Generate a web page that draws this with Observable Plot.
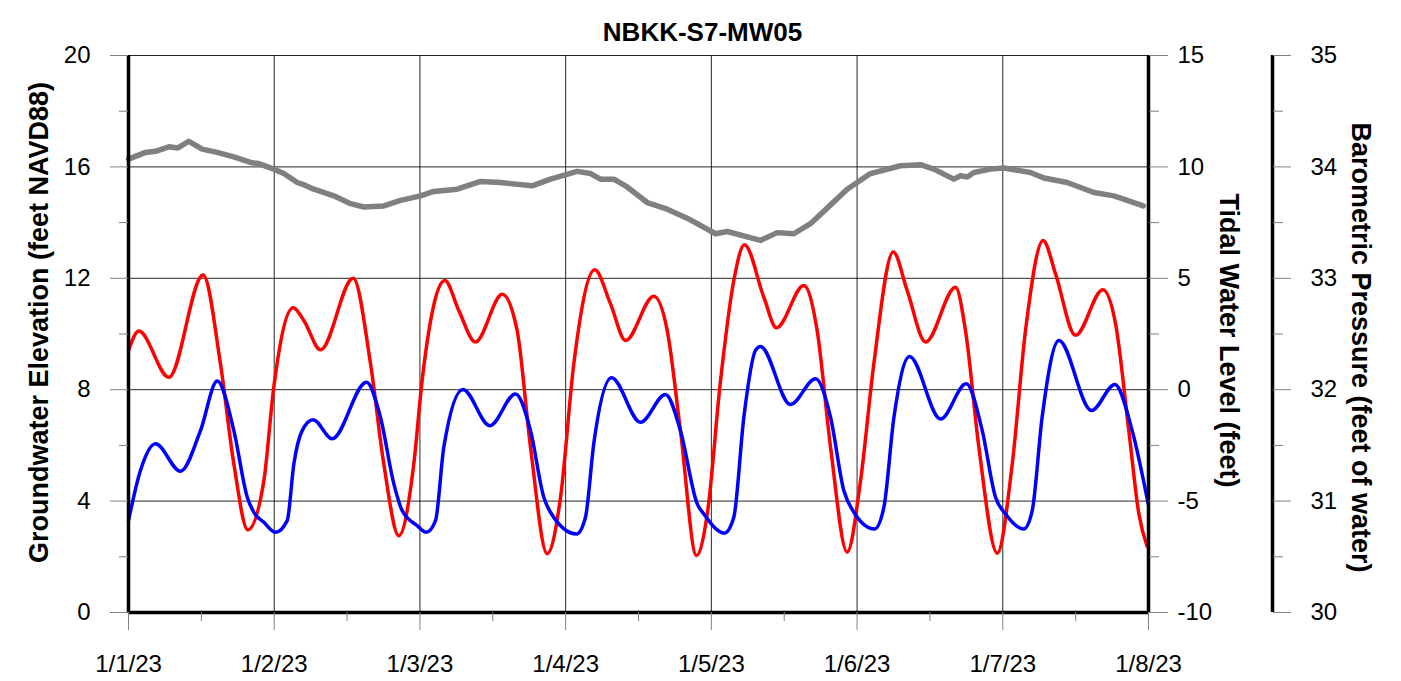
<!DOCTYPE html>
<html><head><meta charset="utf-8">
<script src="https://cdn.jsdelivr.net/npm/d3@7"></script>
<script src="https://cdn.jsdelivr.net/npm/@observablehq/plot@0.6"></script>
<style>html,body{margin:0;padding:0;background:#fff;} #chart{width:1401px;height:681px;}</style>
</head><body><div id="chart"></div>
<script>
const chartTitle = "NBKK-S7-MW05";
const leftTitle = "Groundwater Elevation (feet NAVD88)";
const rightTitle = "Tidal Water Level (feet)";
const farTitle = "Barometric Pressure (feet of water)";

const xTickLabels = ["1/1/23","1/2/23","1/3/23","1/4/23","1/5/23","1/6/23","1/7/23","1/8/23"];
const gwTicks = [0,4,8,12,16,20];
const tidalTicks = [-10,-5,0,5,10,15];
const baroTicks = [30,31,32,33,34,35];

// Groundwater (blue), time in days since 1/1/23
const gwT = [0,0.082,0.185,0.357,0.494,0.609,0.723,0.815,0.86,0.929,1.009,1.089,1.135,1.192,1.267,1.398,1.633,1.729,1.821,1.878,1.981,2.043,2.107,2.164,2.295,2.480,2.656,2.759,2.850,2.896,3.075,3.136,3.193,3.315,3.514,3.685,3.788,3.903,3.948,4.090,4.154,4.223,4.303,4.337,4.543,4.715,4.818,4.909,4.978,5.120,5.184,5.253,5.360,5.573,5.749,5.859,5.950,6.019,6.144,6.202,6.270,6.385,6.609,6.769,6.888,6.998];
const gwVal = [3.30,5.10,6.06,5.07,6.53,8.31,6.53,4.14,3.60,3.24,2.88,3.30,5.34,6.53,6.92,6.24,8.27,7.01,4.62,3.66,3.12,2.88,3.30,5.94,8.01,6.71,7.85,6.53,4.14,3.60,2.82,3.42,6.06,8.43,6.83,7.83,6.53,3.90,3.54,2.85,3.42,7.01,9.41,9.55,7.47,8.39,7.01,4.38,3.60,3.00,3.78,7.01,9.19,6.95,8.21,6.53,4.14,3.54,3.00,3.66,7.01,9.77,7.25,8.19,6.53,3.90];

// Tidal water level (red)
const tidalT = [0,0.071,0.277,0.512,0.631,0.723,0.819,0.929,0.997,1.130,1.203,1.318,1.542,1.661,1.752,1.855,1.958,2.015,2.171,2.267,2.381,2.565,2.667,2.759,2.873,2.965,3.056,3.200,3.308,3.411,3.605,3.697,3.788,3.898,3.972,4.063,4.154,4.227,4.360,4.447,4.635,4.726,4.818,4.932,5.024,5.115,5.248,5.344,5.470,5.676,5.744,5.836,5.962,6.065,6.156,6.277,6.362,6.499,6.687,6.774,6.865,6.934,6.991];
const tidalVal = [1.76,2.63,0.56,5.15,1.16,-3.33,-6.29,-4.08,0.11,3.68,3.11,1.79,5.00,1.16,-3.33,-6.55,-3.33,0.41,4.90,3.55,2.14,4.28,2.66,-2.58,-7.36,-4.83,1.16,5.38,3.85,2.21,4.19,2.66,-1.84,-7.44,-5.58,0.41,4.90,6.51,4.15,2.78,4.68,2.66,-2.58,-7.29,-4.08,1.16,6.18,4.45,2.14,4.60,2.66,-2.58,-7.34,-3.33,2.66,6.70,5.20,2.44,4.49,2.96,-1.84,-5.58,-7.04];

// Barometric pressure (gray)
const baroT = [0,0.117,0.185,0.277,0.339,0.414,0.506,0.609,0.723,0.837,0.894,0.997,1.066,1.158,1.203,1.272,1.409,1.524,1.615,1.752,1.867,2.004,2.095,2.256,2.416,2.553,2.622,2.770,2.896,3.079,3.171,3.239,3.331,3.422,3.560,3.697,3.834,4.029,4.109,4.337,4.452,4.566,4.680,4.795,4.932,5.092,5.298,5.435,5.527,5.664,5.710,5.756,5.802,5.916,6.007,6.190,6.282,6.442,6.625,6.762,6.854,6.964];
const baroVal = [34.07,34.13,34.14,34.18,34.17,34.23,34.16,34.13,34.09,34.04,34.03,33.98,33.94,33.86,33.84,33.80,33.74,33.67,33.64,33.65,33.70,33.74,33.78,33.80,33.87,33.86,33.85,33.83,33.89,33.96,33.94,33.89,33.89,33.82,33.68,33.62,33.54,33.40,33.42,33.34,33.41,33.40,33.49,33.63,33.80,33.94,34.01,34.02,33.98,33.89,33.92,33.91,33.95,33.98,33.99,33.95,33.90,33.86,33.77,33.74,33.70,33.65];

const start = new Date(Date.UTC(2023,0,1));
const end = new Date(Date.UTC(2023,0,8));
const toDate = t => new Date(start.getTime() + t*864e5);
const dayTicks = d3.range(0,8).map(toDate);
const halfTicks = d3.range(0,7).map(i => toDate(i + 0.5));

const tidalToGw = v => (v + 10) * 20 / 25;
const baroToGw = v => (v - 30) * 4;
const minorY = [2,6,10,14,18];

const gw = gwT.map((t,i) => ({date: toDate(t), y: gwVal[i]}));
const tidal = tidalT.map((t,i) => ({date: toDate(t), y: tidalToGw(tidalVal[i])}));
const baro = baroT.map((t,i) => ({date: toDate(t), y: baroToGw(baroVal[i])}));

const tidalPos = tidalTicks.map(tidalToGw);
const baroPos = baroTicks.map(baroToGw);
const lookup = (pos, labels) => v => { const i = pos.findIndex(p => Math.abs(p - v) < 1e-6); return i < 0 ? "" : String(labels[i]); };

const font = "'Liberation Sans', Arial, Helvetica, sans-serif";
const tickColor = "#808080";

const chart = Plot.plot({
  width: 1401, height: 681,
  marginTop: 55, marginBottom: 69, marginLeft: 128, marginRight: 253,
  style: {fontFamily: font, fontSize: "24px", color: "black", background: "white", overflow: "visible"},
  x: {type: "utc", domain: [start, end]},
  y: {domain: [0, 20]},
  marks: [
    Plot.gridY(gwTicks.slice(1), {stroke: "#000", strokeOpacity: 0.85, strokeWidth: 1}),
    Plot.gridX(dayTicks.slice(1, -1), {stroke: "#000", strokeOpacity: 0.85, strokeWidth: 1}),
    Plot.line(baro, {x: "date", y: "y", stroke: "#808080", strokeWidth: 5.5, curve: "linear", strokeLinejoin: "round"}),
    Plot.line(tidal, {x: "date", y: "y", stroke: "#ff0000", strokeWidth: 3.5, curve: "monotone-x"}),
    Plot.line(gw, {x: "date", y: "y", stroke: "#0000ff", strokeWidth: 3.5, curve: "monotone-x"}),
    Plot.ruleY([0], {stroke: "#000", strokeWidth: 3.5}),
    Plot.ruleX([start, end], {stroke: "#000", strokeWidth: 3.5}),
    Plot.ruleX([end], {dx: 124, stroke: "#000", strokeWidth: 3.5}),
    // x axis
    Plot.axisX(dayTicks, {tickSize: 18, tickPadding: 24, stroke: tickColor, fill: "black", fontSize: 24, label: null,
      tickFormat: d => xTickLabels[Math.round((d - start) / 864e5)]}),
    Plot.axisX(halfTicks, {tickSize: 9, stroke: tickColor, tickFormat: () => "", label: null}),
    // left axis
    Plot.axisY(gwTicks, {anchor: "left", tickSize: 18, tickPadding: 20, stroke: tickColor, fill: "black", fontSize: 24, label: null, tickFormat: d => String(d)}),
    Plot.axisY(minorY, {anchor: "left", tickSize: 9, stroke: tickColor, tickFormat: () => "", label: null}),
    // tidal axis
    Plot.axisY(tidalPos, {anchor: "right", tickSize: 19, tickPadding: 10, stroke: tickColor, fill: "black", fontSize: 24, label: null, tickFormat: lookup(tidalPos, tidalTicks)}),
    Plot.axisY(minorY, {anchor: "right", tickSize: 10, stroke: tickColor, tickFormat: () => "", label: null}),
    // barometric axis
    Plot.axisY(baroPos, {anchor: "right", dx: 124, tickSize: 18, tickPadding: 20, stroke: tickColor, fill: "black", fontSize: 24, label: null, tickFormat: lookup(baroPos, baroTicks)}),
    Plot.axisY(minorY, {anchor: "right", dx: 124, tickSize: 10, stroke: tickColor, tickFormat: () => "", label: null}),
    // titles
    Plot.text([chartTitle], {frameAnchor: "top", textAnchor: "middle", dx: 64, dy: -33, fontSize: 26, fontWeight: "bold", fill: "black"}),
    Plot.text([leftTitle], {frameAnchor: "left", textAnchor: "middle", rotate: -90, dx: -89, dy: -11.5, fontSize: 27, fontWeight: "bold", fill: "black"}),
    Plot.text([rightTitle], {frameAnchor: "right", textAnchor: "middle", rotate: 90, dx: 80, dy: 6.5, fontSize: 27, fontWeight: "bold", fill: "black"}),
    Plot.text([farTitle], {frameAnchor: "right", textAnchor: "middle", rotate: 90, dx: 212, dy: 13.5, fontSize: 27, fontWeight: "bold", fill: "black"})
  ]
});
document.getElementById("chart").appendChild(chart);
</script>
</body></html>
